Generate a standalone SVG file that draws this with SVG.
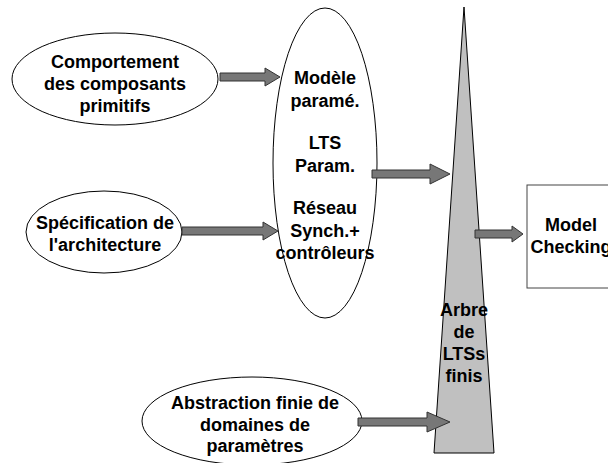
<svg xmlns="http://www.w3.org/2000/svg" width="608" height="463" viewBox="0 0 608 463">
<style>
.n{fill:#fff;stroke:#000;stroke-width:1}
.t{font-family:"Liberation Sans",Arial,sans-serif;font-weight:bold;font-size:18px;fill:#000;text-anchor:middle}
.a{fill:#777;stroke:#333;stroke-width:1}
</style>
<rect width="608" height="463" fill="#fff"/>
<g id="tree">
<polygon points="464,7 494,453 434,453" fill="#c0c0c0" stroke="#000" stroke-width="1"/>
<text class="t" x="464" y="316">Arbre</text>
<text class="t" x="464" y="338">de</text>
<text class="t" x="464" y="360">LTSs</text>
<text class="t" x="464" y="382">finis</text>
</g>
<g id="comportement">
<ellipse class="n" cx="115" cy="79" rx="103" ry="46"/>
<text class="t" x="115" y="68">Comportement</text>
<text class="t" x="115" y="90">des composants</text>
<text class="t" x="115" y="112">primitifs</text>
</g>
<g id="specification">
<ellipse class="n" cx="104" cy="232" rx="78" ry="41"/>
<text class="t" x="105" y="229">Spécification de</text>
<text class="t" x="105" y="251">l'architecture</text>
</g>
<g id="modele">
<ellipse class="n" cx="325" cy="163" rx="52" ry="155"/>
<text class="t" x="325" y="84">Modèle</text>
<text class="t" x="325" y="107">paramé.</text>
<text class="t" x="325" y="149">LTS</text>
<text class="t" x="325" y="172">Param.</text>
<text class="t" x="325" y="214">Réseau</text>
<text class="t" x="325" y="237">Synch.+</text>
<text class="t" x="325" y="259">contrôleurs</text>
</g>
<g id="abstraction">
<ellipse class="n" cx="252" cy="421" rx="110" ry="44"/>
<text class="t" x="255" y="409">Abstraction finie de</text>
<text class="t" x="255" y="431">domaines de</text>
<text class="t" x="255" y="452">paramètres</text>
</g>
<g id="modelchecking">
<rect x="527" y="185" width="100" height="103" fill="#fff" stroke="#444" stroke-width="1"/>
<text class="t" x="571" y="231">Model</text>
<text class="t" x="571" y="253">Checking</text>
</g>
<g id="connectors">
<polygon class="a" points="220,73 265,73 265,68 280,77 265,86 265,81 220,81"/>
<polygon class="a" points="182,227 263,227 263,222 278,231 263,240 263,235 182,235"/>
<polygon class="a" points="372,170 430,170 430,164 450,174 430,184 430,178 372,178"/>
<polygon class="a" points="475,230 512,230 512,226 523,234 512,242 512,238 475,238"/>
<polygon class="a" points="358,418 427,418 427,412 450,422 427,432 427,426 358,426"/>
</g>
</svg>
